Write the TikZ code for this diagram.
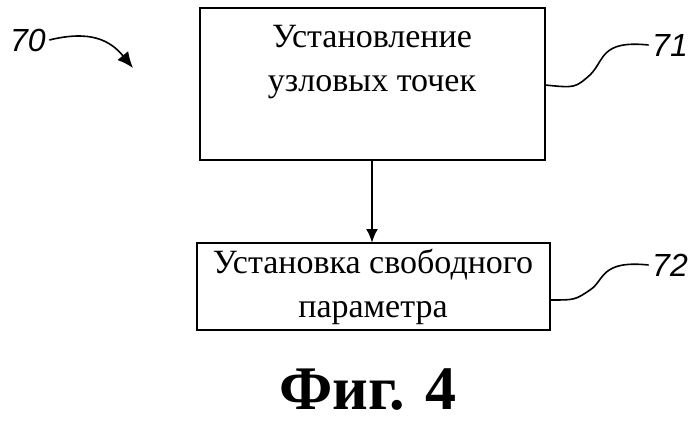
\documentclass[tikz,border=0pt]{standalone}
\usepackage{fontspec}
\setmainfont{Liberation Serif}
\newfontfamily\lblfont{Liberation Sans}
\usetikzlibrary{positioning,arrows.meta}
\tikzset{
  stepbox/.style={draw, line width=2.4pt, align=center, inner sep=0pt, font=\fontsize{34}{44}\selectfont},
  reflbl/.style={font=\lblfont\itshape\fontsize{32}{36}\selectfont},
  squig/.style={line width=1.6pt}
}
\begin{document}
\begin{tikzpicture}[x=1pt, y=-1pt]
    \useasboundingbox (0,0) rectangle (699,425);
    \draw[stepbox] (200,8) rectangle (545,160);
    \node[stepbox, draw=none] (s1t) at (372,62) {Установление\\узловых точек};
    \coordinate (s1b) at (372,160);
    \coordinate (s1r) at (545,85);
    \draw[stepbox] (197,243) rectangle (550,330);
    \node[stepbox, draw=none] (s2t) at (373,287) {Установка свободного\\параметра};
    \coordinate (s2top) at (372,243);
    \coordinate (s2r) at (550,300);

    \node[reflbl] (n70) at (28,40) {70};
    \node[reflbl] (n71) at (670,45) {71};
    \node[reflbl] (n72) at (670,265) {72};
    \node[font=\bfseries\fontsize{62}{70}\selectfont] (fig) at (368,390) {Фиг. 4};

    \draw[line width=2.4pt, -{Latex[length=14pt,width=12pt]}] (s1b) -- (s2top);
    \draw[squig, -{Latex[length=16pt,width=14pt]}] (n70.east) .. controls (90,30) and (110,40) .. (133,68);
    \draw[squig] (n71.west) .. controls (600,40) and (605,60) .. (590,75) .. controls (575,88) .. (s1r);
    \draw[squig] (n72.west) .. controls (600,260) and (605,280) .. (590,290) .. controls (575,300) .. (s2r);
\end{tikzpicture}
\end{document}
